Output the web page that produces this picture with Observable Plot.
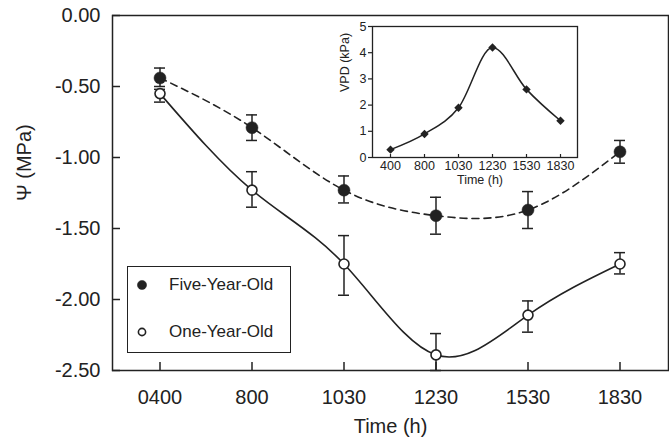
<!DOCTYPE html>
<html><head><meta charset="utf-8">
<script src="https://cdn.jsdelivr.net/npm/d3@7"></script>
<script src="https://cdn.jsdelivr.net/npm/@observablehq/plot@0.6"></script>
<style>
body{margin:0;background:#fff;}
#wrap{position:relative;width:669px;height:447px;font-family:"Liberation Sans",Arial,sans-serif;color:#222;}
#main{position:absolute;left:0;top:0;}
#inset{position:absolute;left:330px;top:10px;}
#legend{position:absolute;left:127px;top:266px;width:162px;height:85px;border:1.5px solid #222;background:#fff;box-sizing:content-box;}
.lg-row{position:absolute;left:0;height:20px;width:160px;}
.lg-row svg{position:absolute;left:6px;top:0;}
.lg-row span{position:absolute;left:41px;top:0;font-size:17px;line-height:20px;white-space:nowrap;}
</style></head>
<body><div id="wrap"><div id="main"></div><div id="inset"></div><div id="legend"></div></div>
<script>
// ---- data ----
const times = ["0400", "800", "1030", "1230", "1530", "1830"];
const fiveMean = [-0.44, -0.79, -1.23, -1.41, -1.37, -0.96];
const fiveLo   = [-0.50, -0.88, -1.32, -1.54, -1.50, -1.04];
const fiveHi   = [-0.37, -0.70, -1.13, -1.28, -1.24, -0.88];
const oneMean  = [-0.55, -1.23, -1.75, -2.39, -2.11, -1.75];
const oneLo    = [-0.61, -1.35, -1.97, -2.50, -2.23, -1.82];
const oneHi    = [-0.52, -1.10, -1.55, -2.24, -2.01, -1.67];
const yTicks = [0, -0.5, -1.0, -1.5, -2.0, -2.5];
const seriesNames = ["Five-Year-Old", "One-Year-Old"];

const vpdTimes = ["400", "800", "1030", "1230", "1530", "1830"];
const vpd = [0.3, 0.9, 1.9, 4.2, 2.6, 1.4];
const vpdTicks = [0, 1, 2, 3, 4, 5];

// ---- main chart ----
const ink = "#222";
const font = "Liberation Sans, Arial, sans-serif";
const rows = times.map((t, i) => ({t, five: fiveMean[i], fiveLo: fiveLo[i], fiveHi: fiveHi[i],
  one: oneMean[i], oneLo: oneLo[i], oneHi: oneHi[i]}));
const W = 669, H = 447, mL = 112, mR = 1, mT = 15, mB = 77;
const innerW = W - mL - mR, innerH = H - mT - mB;

const main = Plot.plot({
  width: W, height: H, marginLeft: mL, marginRight: mR, marginTop: mT, marginBottom: mB,
  style: {fontFamily: font, color: ink, background: "transparent", overflow: "visible"},
  x: {type: "band", domain: times, paddingInner: 0.88, paddingOuter: 0.44, axis: null},
  y: {domain: [-2.5, 0], axis: null},
  marks: [
    Plot.axisX({tickSize: 0, tickPadding: 19, fontSize: 20, label: null}),
    Plot.axisY({ticks: yTicks, tickFormat: d => d.toFixed(2), tickSize: 0, tickPadding: 12, fontSize: 20, label: null}),
    Plot.frame({stroke: ink, strokeWidth: 1.5}),
    Plot.tickX(times, {x: d => d, insetTop: innerH - 8, stroke: ink, strokeWidth: 1.5}),
    Plot.tickY(yTicks, {y: d => d, insetRight: innerW - 8, stroke: ink, strokeWidth: 1.5}),
    // error bars
    Plot.ruleX(rows, {x: "t", y1: "fiveLo", y2: "fiveHi", stroke: ink, strokeWidth: 1.5}),
    Plot.tickY(rows, {x: "t", y: "fiveLo", stroke: ink, strokeWidth: 1.5}),
    Plot.tickY(rows, {x: "t", y: "fiveHi", stroke: ink, strokeWidth: 1.5}),
    Plot.ruleX(rows, {x: "t", y1: "oneLo", y2: "oneHi", stroke: ink, strokeWidth: 1.5}),
    Plot.tickY(rows, {x: "t", y: "oneLo", stroke: ink, strokeWidth: 1.5}),
    Plot.tickY(rows, {x: "t", y: "oneHi", stroke: ink, strokeWidth: 1.5}),
    // curves
    Plot.line(rows, {x: "t", y: "five", curve: "natural", stroke: ink, strokeWidth: 1.6, strokeDasharray: "7,5"}),
    Plot.line(rows, {x: "t", y: "one", curve: "natural", stroke: ink, strokeWidth: 1.6}),
    // points
    Plot.dot(rows, {x: "t", y: "five", r: 6, fill: ink, stroke: ink, strokeWidth: 0.5}),
    Plot.dot(rows, {x: "t", y: "one", r: 5, fill: "white", stroke: ink, strokeWidth: 1.6}),
    // titles
    Plot.text(["Time (h)"], {frameAnchor: "bottom", dy: 62, fontSize: 20, fill: ink}),
    Plot.text(["Ψ (MPa)"], {frameAnchor: "left", dx: -88, dy: 8, rotate: -90, fontSize: 20, fill: ink})
  ]
});
document.getElementById("main").appendChild(main);

// ---- inset ----
const vrows = vpdTimes.map((t, i) => ({t, v: vpd[i]}));
const iW = 260, iH = 190, iL = 42, iR = 13, iT = 16, iB = 43;
const inset = Plot.plot({
  width: iW, height: iH, marginLeft: iL, marginRight: iR, marginTop: iT, marginBottom: iB,
  style: {fontFamily: font, color: ink, background: "transparent", overflow: "visible"},
  x: {type: "point", domain: vpdTimes, padding: 0.5, axis: null},
  y: {domain: [0, 5], axis: null},
  marks: [
    Plot.axisX({tickSize: 0, tickPadding: 4, fontSize: 12.5, label: null}),
    Plot.axisY({ticks: vpdTicks, tickFormat: d => String(d), tickSize: 4, tickPadding: 2, fontSize: 12.5, label: null, strokeWidth: 1.2}),
    Plot.frame({stroke: ink, strokeWidth: 1.3}),
    Plot.tickX(vpdTimes, {x: d => d, insetTop: iH - iT - iB - 3, stroke: ink, strokeWidth: 1.2}),
    Plot.line(vrows, {x: "t", y: "v", curve: "monotone-x", stroke: ink, strokeWidth: 1.5}),
    Plot.dot(vrows, {x: "t", y: "v", symbol: "diamond2", r: 3.8, fill: ink}),
    Plot.text(["Time (h)"], {frameAnchor: "bottom", dx: 5, dy: 26, fontSize: 12.5, fill: ink}),
    Plot.text(["VPD (kPa)"], {frameAnchor: "left", dx: -28, rotate: -90, fontSize: 12.5, fill: ink})
  ]
});
document.getElementById("inset").appendChild(inset);

// ---- legend ----
const legend = document.getElementById("legend");
const rowTops = [8, 55];
seriesNames.forEach((name, i) => {
  const row = document.createElement("div");
  row.className = "lg-row";
  row.style.top = rowTops[i] + "px";
  const filled = i === 0;
  row.innerHTML = `<svg width="16" height="20"><circle cx="8" cy="10" r="${filled ? 4.6 : 3.6}" fill="${filled ? ink : "white"}" stroke="${ink}" stroke-width="${filled ? 0.5 : 1.6}"/></svg><span>${name}</span>`;
  legend.appendChild(row);
});
</script>
</body></html>
